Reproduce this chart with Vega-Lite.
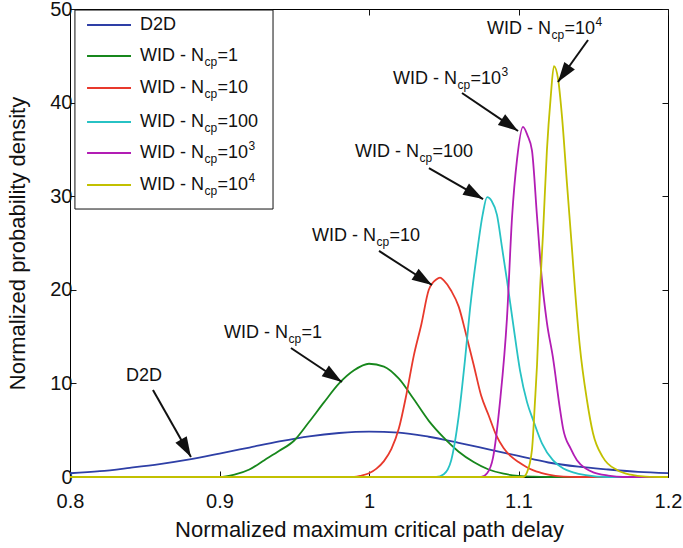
{
  "$schema": "https://vega.github.io/schema/vega-lite/v6.json",
  "width": 598,
  "height": 468,
  "autosize": {"type": "none"},
  "padding": {"left": 70, "top": 9, "right": 15, "bottom": 71},
  "background": "white",
  "config": {
    "view": {"stroke": "black", "strokeWidth": 1},
    "font": "Liberation Sans",
    "axis": {
      "grid": false,
      "domain": false,
      "tickColor": "#111",
      "tickSize": -6,
      "tickWidth": 1,
      "labelFont": "Liberation Sans",
      "labelFontSize": 20,
      "labelColor": "#111",
      "labelFlush": false,
      "labelOverlap": false,
      "titleFont": "Liberation Sans",
      "titleFontSize": 22,
      "titleFontWeight": "normal",
      "titleColor": "#111"
    }
  },
  "datasets": {
    "curves": [
      {"series": "D2D", "x": 0.80, "y": 0.40}, {"series": "D2D", "x": 0.82, "y": 0.62}, {"series": "D2D", "x": 0.84, "y": 0.98},
      {"series": "D2D", "x": 0.86, "y": 1.38}, {"series": "D2D", "x": 0.88, "y": 1.88}, {"series": "D2D", "x": 0.90, "y": 2.50},
      {"series": "D2D", "x": 0.92, "y": 3.15}, {"series": "D2D", "x": 0.94, "y": 3.80}, {"series": "D2D", "x": 0.96, "y": 4.35},
      {"series": "D2D", "x": 0.98, "y": 4.70}, {"series": "D2D", "x": 1.00, "y": 4.85}, {"series": "D2D", "x": 1.02, "y": 4.75},
      {"series": "D2D", "x": 1.04, "y": 4.30}, {"series": "D2D", "x": 1.06, "y": 3.65}, {"series": "D2D", "x": 1.08, "y": 2.95},
      {"series": "D2D", "x": 1.10, "y": 2.25}, {"series": "D2D", "x": 1.12, "y": 1.55}, {"series": "D2D", "x": 1.14, "y": 1.10},
      {"series": "D2D", "x": 1.16, "y": 0.80}, {"series": "D2D", "x": 1.18, "y": 0.55}, {"series": "D2D", "x": 1.20, "y": 0.42},

      {"series": "WID1", "x": 0.80, "y": 0}, {"series": "WID1", "x": 0.90, "y": 0}, {"series": "WID1", "x": 0.91, "y": 0.25},
      {"series": "WID1", "x": 0.92, "y": 0.8}, {"series": "WID1", "x": 0.93, "y": 1.8}, {"series": "WID1", "x": 0.94, "y": 2.8},
      {"series": "WID1", "x": 0.95, "y": 3.9}, {"series": "WID1", "x": 0.96, "y": 5.9}, {"series": "WID1", "x": 0.97, "y": 8.0},
      {"series": "WID1", "x": 0.98, "y": 10.0}, {"series": "WID1", "x": 0.99, "y": 11.4}, {"series": "WID1", "x": 1.00, "y": 12.1},
      {"series": "WID1", "x": 1.01, "y": 11.8}, {"series": "WID1", "x": 1.02, "y": 10.5}, {"series": "WID1", "x": 1.03, "y": 8.3},
      {"series": "WID1", "x": 1.04, "y": 6.0}, {"series": "WID1", "x": 1.05, "y": 4.2}, {"series": "WID1", "x": 1.06, "y": 2.7},
      {"series": "WID1", "x": 1.07, "y": 1.6}, {"series": "WID1", "x": 1.08, "y": 0.8}, {"series": "WID1", "x": 1.09, "y": 0.35},
      {"series": "WID1", "x": 1.10, "y": 0.12}, {"series": "WID1", "x": 1.11, "y": 0.03}, {"series": "WID1", "x": 1.12, "y": 0},
      {"series": "WID1", "x": 1.20, "y": 0},

      {"series": "WID10", "x": 0.93, "y": 0}, {"series": "WID10", "x": 0.99, "y": 0}, {"series": "WID10", "x": 0.995, "y": 0.15},
      {"series": "WID10", "x": 1.0, "y": 0.4}, {"series": "WID10", "x": 1.005, "y": 0.9}, {"series": "WID10", "x": 1.01, "y": 1.7},
      {"series": "WID10", "x": 1.015, "y": 3.0}, {"series": "WID10", "x": 1.02, "y": 5.2}, {"series": "WID10", "x": 1.025, "y": 8.8},
      {"series": "WID10", "x": 1.03, "y": 13.0}, {"series": "WID10", "x": 1.035, "y": 16.3}, {"series": "WID10", "x": 1.04, "y": 20.0},
      {"series": "WID10", "x": 1.045, "y": 21.1}, {"series": "WID10", "x": 1.0475, "y": 21.3}, {"series": "WID10", "x": 1.05, "y": 21.0},
      {"series": "WID10", "x": 1.055, "y": 19.9}, {"series": "WID10", "x": 1.06, "y": 18.2}, {"series": "WID10", "x": 1.065, "y": 15.2},
      {"series": "WID10", "x": 1.07, "y": 12.0}, {"series": "WID10", "x": 1.075, "y": 8.7}, {"series": "WID10", "x": 1.08, "y": 6.6},
      {"series": "WID10", "x": 1.085, "y": 4.5}, {"series": "WID10", "x": 1.09, "y": 3.1}, {"series": "WID10", "x": 1.095, "y": 2.2},
      {"series": "WID10", "x": 1.10, "y": 1.6}, {"series": "WID10", "x": 1.105, "y": 1.1}, {"series": "WID10", "x": 1.11, "y": 0.7},
      {"series": "WID10", "x": 1.115, "y": 0.45}, {"series": "WID10", "x": 1.12, "y": 0.25}, {"series": "WID10", "x": 1.13, "y": 0.05},
      {"series": "WID10", "x": 1.14, "y": 0}, {"series": "WID10", "x": 1.20, "y": 0},

      {"series": "WID100", "x": 1.015, "y": 0}, {"series": "WID100", "x": 1.045, "y": 0}, {"series": "WID100", "x": 1.05, "y": 0.3},
      {"series": "WID100", "x": 1.055, "y": 1.8}, {"series": "WID100", "x": 1.06, "y": 6.5}, {"series": "WID100", "x": 1.0642, "y": 12.5},
      {"series": "WID100", "x": 1.0676, "y": 18.0}, {"series": "WID100", "x": 1.0722, "y": 23.9}, {"series": "WID100", "x": 1.076, "y": 28.0},
      {"series": "WID100", "x": 1.079, "y": 29.9}, {"series": "WID100", "x": 1.082, "y": 29.5}, {"series": "WID100", "x": 1.0856, "y": 28.0},
      {"series": "WID100", "x": 1.089, "y": 24.5}, {"series": "WID100", "x": 1.0923, "y": 21.0}, {"series": "WID100", "x": 1.0963, "y": 16.5},
      {"series": "WID100", "x": 1.101, "y": 11.4}, {"series": "WID100", "x": 1.1057, "y": 8.0}, {"series": "WID100", "x": 1.11, "y": 6.0},
      {"series": "WID100", "x": 1.1157, "y": 3.6}, {"series": "WID100", "x": 1.123, "y": 1.8}, {"series": "WID100", "x": 1.13, "y": 0.9},
      {"series": "WID100", "x": 1.1365, "y": 0.5}, {"series": "WID100", "x": 1.145, "y": 0.2}, {"series": "WID100", "x": 1.16, "y": 0},
      {"series": "WID100", "x": 1.20, "y": 0},

      {"series": "WID1e3", "x": 1.05, "y": 0}, {"series": "WID1e3", "x": 1.075, "y": 0}, {"series": "WID1e3", "x": 1.079, "y": 0.4},
      {"series": "WID1e3", "x": 1.083, "y": 2.1}, {"series": "WID1e3", "x": 1.0876, "y": 8.0}, {"series": "WID1e3", "x": 1.0923, "y": 17.0},
      {"series": "WID1e3", "x": 1.0957, "y": 27.8}, {"series": "WID1e3", "x": 1.099, "y": 33.9}, {"series": "WID1e3", "x": 1.103, "y": 37.4},
      {"series": "WID1e3", "x": 1.106, "y": 36.5}, {"series": "WID1e3", "x": 1.109, "y": 34.9}, {"series": "WID1e3", "x": 1.1124, "y": 27.8},
      {"series": "WID1e3", "x": 1.1157, "y": 21.0}, {"series": "WID1e3", "x": 1.119, "y": 16.5}, {"series": "WID1e3", "x": 1.123, "y": 12.8},
      {"series": "WID1e3", "x": 1.1278, "y": 7.2}, {"series": "WID1e3", "x": 1.1298, "y": 5.2}, {"series": "WID1e3", "x": 1.135, "y": 3.0},
      {"series": "WID1e3", "x": 1.1391, "y": 1.8}, {"series": "WID1e3", "x": 1.145, "y": 0.9}, {"series": "WID1e3", "x": 1.15, "y": 0.5},
      {"series": "WID1e3", "x": 1.16, "y": 0.15}, {"series": "WID1e3", "x": 1.17, "y": 0}, {"series": "WID1e3", "x": 1.20, "y": 0},

      {"series": "WID1e4", "x": 0.80, "y": 0}, {"series": "WID1e4", "x": 1.103, "y": 0}, {"series": "WID1e4", "x": 1.1057, "y": 0.5},
      {"series": "WID1e4", "x": 1.109, "y": 2.9}, {"series": "WID1e4", "x": 1.111, "y": 8.0}, {"series": "WID1e4", "x": 1.1124, "y": 12.0},
      {"series": "WID1e4", "x": 1.1144, "y": 20.0}, {"series": "WID1e4", "x": 1.1164, "y": 26.0}, {"series": "WID1e4", "x": 1.119, "y": 34.9},
      {"series": "WID1e4", "x": 1.1215, "y": 40.5}, {"series": "WID1e4", "x": 1.1237, "y": 43.9}, {"series": "WID1e4", "x": 1.1265, "y": 42.5},
      {"series": "WID1e4", "x": 1.1291, "y": 38.5}, {"series": "WID1e4", "x": 1.1324, "y": 31.4}, {"series": "WID1e4", "x": 1.1358, "y": 24.3},
      {"series": "WID1e4", "x": 1.1378, "y": 20.0}, {"series": "WID1e4", "x": 1.141, "y": 14.0}, {"series": "WID1e4", "x": 1.1458, "y": 8.2},
      {"series": "WID1e4", "x": 1.1498, "y": 4.7}, {"series": "WID1e4", "x": 1.1565, "y": 2.1}, {"series": "WID1e4", "x": 1.1659, "y": 0.75},
      {"series": "WID1e4", "x": 1.175, "y": 0.25}, {"series": "WID1e4", "x": 1.185, "y": 0.05}, {"series": "WID1e4", "x": 1.20, "y": 0}
    ],
    "legendbox": [
      {"x": 0.8033, "x2": 0.9358, "y": 49.89, "y2": 28.63}
    ],
    "legend": [
      {"series": "D2D", "x": 0.8114, "x2": 0.8408, "y": 48.29},
      {"series": "WID1", "x": 0.8114, "x2": 0.8408, "y": 44.98},
      {"series": "WID10", "x": 0.8114, "x2": 0.8408, "y": 41.56},
      {"series": "WID100", "x": 0.8114, "x2": 0.8408, "y": 37.93},
      {"series": "WID1e3", "x": 0.8114, "x2": 0.8408, "y": 34.62},
      {"series": "WID1e4", "x": 0.8114, "x2": 0.8408, "y": 31.20}
    ],
    "labels": [
      {"x": 0.8468, "y": 48.29, "pre": "D2D", "sub": null, "post": null, "sup": null},
      {"x": 0.8468, "y": 44.98, "pre": "WID - N", "sub": "cp", "post": "=1", "sup": null},
      {"x": 0.8468, "y": 41.56, "pre": "WID - N", "sub": "cp", "post": "=10", "sup": null},
      {"x": 0.8468, "y": 37.93, "pre": "WID - N", "sub": "cp", "post": "=100", "sup": null},
      {"x": 0.8468, "y": 34.62, "pre": "WID - N", "sub": "cp", "post": "=10", "sup": "3"},
      {"x": 0.8468, "y": 31.20, "pre": "WID - N", "sub": "cp", "post": "=10", "sup": "4"},
      {"x": 0.8375, "y": 10.79, "pre": "D2D", "sub": null, "post": null, "sup": null},
      {"x": 0.9030, "y": 15.38, "pre": "WID - N", "sub": "cp", "post": "=1", "sup": null},
      {"x": 0.9619, "y": 25.75, "pre": "WID - N", "sub": "cp", "post": "=10", "sup": null},
      {"x": 0.9906, "y": 34.72, "pre": "WID - N", "sub": "cp", "post": " =100", "sup": null},
      {"x": 1.0161, "y": 42.52, "pre": "WID - N", "sub": "cp", "post": "=10", "sup": "3"},
      {"x": 1.0789, "y": 47.86, "pre": "WID - N", "sub": "cp", "post": "=10", "sup": "4"}
    ],
    "arrows": [
      {"name": "D2D", "x": 0.8555, "y": 9.29, "x2": 0.8809, "y2": 2.14},
      {"name": "WID1", "x": 0.9478, "y": 13.78, "x2": 0.9819, "y2": 10.15},
      {"name": "WID10", "x": 1.0067, "y": 24.15, "x2": 1.0421, "y2": 20.51},
      {"name": "WID100", "x": 1.0401, "y": 33.01, "x2": 1.0763, "y2": 29.70},
      {"name": "WID1e3", "x": 1.0622, "y": 41.03, "x2": 1.0997, "y2": 36.97},
      {"name": "WID1e4", "x": 1.1465, "y": 46.69, "x2": 1.1264, "y2": 42.20}
    ]
  },
  "layer": [
    {
      "data": {"name": "curves"},
      "mark": {"type": "line", "strokeWidth": 1.8, "interpolate": "monotone"},
      "encoding": {
        "x": {"field": "x", "type": "quantitative", "scale": {"domain": [0.8, 1.2], "nice": false, "zero": false},
              "axis": {"orient": "bottom", "values": [0.8, 0.9, 1, 1.1, 1.2], "format": "~g", "labelPadding": 20, "title": "Normalized maximum critical path delay", "titlePadding": 8}},
        "y": {"field": "y", "type": "quantitative", "scale": {"domain": [0, 50], "nice": false},
              "axis": {"orient": "left", "values": [0, 10, 20, 30, 40, 50], "labelPadding": 4, "title": "Normalized probability density", "titlePadding": 20}},
        "color": {"field": "series", "type": "nominal",
                  "scale": {"domain": ["D2D", "WID1", "WID10", "WID100", "WID1e3", "WID1e4"],
                            "range": ["#2e3fa6", "#17871c", "#e8392c", "#27c2c4", "#b21db4", "#c2c000"]},
                  "legend": null},
        "order": {"field": "x", "type": "quantitative"}
      }
    },
    {
      "data": {"name": "arrows"},
      "mark": {"type": "rule", "strokeWidth": 2, "color": "#111"},
      "encoding": {
        "x": {"field": "x", "type": "quantitative", "axis": {"orient": "top", "values": [0.8, 0.9, 1, 1.1, 1.2], "labels": false, "title": null}},
        "y": {"field": "y", "type": "quantitative", "axis": {"orient": "right", "values": [0, 10, 20, 30, 40, 50], "labels": false, "title": null}},
        "x2": {"field": "x2"},
        "y2": {"field": "y2"}
      }
    },
    {
      "data": {"name": "arrows"},
      "mark": {"type": "point", "shape": "M0,0L-0.65,2L0.65,2Z", "filled": true, "color": "#111", "opacity": 1, "size": 400},
      "encoding": {
        "x": {"field": "x2", "type": "quantitative", "axis": null},
        "y": {"field": "y2", "type": "quantitative", "axis": null},
        "angle": {"field": "name", "type": "nominal",
                  "scale": {"type": "ordinal", "domain": ["D2D", "WID1", "WID10", "WID100", "WID1e3", "WID1e4"],
                            "range": [150.4, 123.7, 122.7, 119.9, 124.2, 215.5]},
                  "legend": null}
      }
    },
    {
      "data": {"name": "legendbox"},
      "mark": {"type": "rect", "fill": "white", "stroke": "#111", "strokeWidth": 1},
      "encoding": {
        "x": {"field": "x", "type": "quantitative", "axis": null},
        "x2": {"field": "x2"},
        "y": {"field": "y", "type": "quantitative", "axis": null},
        "y2": {"field": "y2"}
      }
    },
    {
      "data": {"name": "legend"},
      "mark": {"type": "rule", "strokeWidth": 2},
      "encoding": {
        "x": {"field": "x", "type": "quantitative", "axis": null},
        "x2": {"field": "x2"},
        "y": {"field": "y", "type": "quantitative", "axis": null},
        "color": {"field": "series", "type": "nominal", "legend": null}
      }
    },
    {
      "data": {"name": "labels"},
      "mark": {"type": "text", "align": "left", "baseline": "middle", "fontSize": 18, "font": "Liberation Sans", "color": "#111"},
      "encoding": {
        "x": {"field": "x", "type": "quantitative", "axis": null},
        "y": {"field": "y", "type": "quantitative", "axis": null},
        "text": {"field": "pre"}
      }
    },
    {
      "data": {"name": "labels"},
      "transform": [{"filter": "datum.sub != null"}],
      "mark": {"type": "text", "align": "left", "baseline": "middle", "fontSize": 12, "font": "Liberation Sans", "color": "#111", "dx": 64.5, "dy": 6},
      "encoding": {
        "x": {"field": "x", "type": "quantitative", "axis": null},
        "y": {"field": "y", "type": "quantitative", "axis": null},
        "text": {"field": "sub"}
      }
    },
    {
      "data": {"name": "labels"},
      "transform": [{"filter": "datum.post != null"}],
      "mark": {"type": "text", "align": "left", "baseline": "middle", "fontSize": 18, "font": "Liberation Sans", "color": "#111", "dx": 77.5},
      "encoding": {
        "x": {"field": "x", "type": "quantitative", "axis": null},
        "y": {"field": "y", "type": "quantitative", "axis": null},
        "text": {"field": "post"}
      }
    },
    {
      "data": {"name": "labels"},
      "transform": [{"filter": "datum.sup != null"}],
      "mark": {"type": "text", "align": "left", "baseline": "middle", "fontSize": 12, "font": "Liberation Sans", "color": "#111", "dx": 108.5, "dy": -7},
      "encoding": {
        "x": {"field": "x", "type": "quantitative", "axis": null},
        "y": {"field": "y", "type": "quantitative", "axis": null},
        "text": {"field": "sup"}
      }
    }
  ]
}
